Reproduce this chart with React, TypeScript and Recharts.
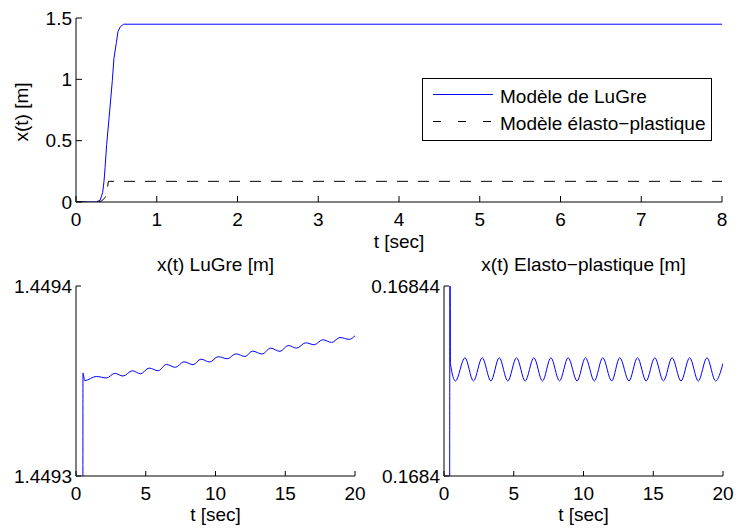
import { LineChart, Line, XAxis, YAxis, Legend } from 'recharts';

const FONT = '"Liberation Sans", Arial, Helvetica, sans-serif';
const BLUE = '#0000ff';

// top panel, full run 0..8 s
const lugreT = [0, 0.25, 0.3, 0.33, 0.347, 0.36, 0.38, 0.41, 0.43, 0.45, 0.47, 0.5, 0.52, 0.55, 0.59, 8];
const lugreX = [0, 0, 0.016, 0.077, 0.17, 0.28, 0.47, 0.69, 0.84, 0.99, 1.17, 1.3, 1.39, 1.43, 1.4494, 1.4494];
const elastoT = [0, 0.28, 0.32, 0.36, 0.38, 0.4, 8];
const elastoX = [0, 0, 0.01, 0.036, 0.063, 0.1684, 0.1684];
const topXTicks = [0, 1, 2, 3, 4, 5, 6, 7, 8];
const topYTicks = [0, 0.5, 1, 1.5];

// zoomed panels, 0..20 s
const zoomXTicks = [0, 5, 10, 15, 20];

const zLugreT = [0.49, 0.5, 0.62, 1.46, 2.18, 2.78, 3.37, 4.04, 4.62, 5.24, 5.89, 6.48, 7.13, 7.73, 8.4, 8.95, 9.59,
  10.19, 10.84, 11.46, 12.11, 12.66, 13.35, 13.95, 14.62, 15.22, 15.81, 16.46, 17.08, 17.68, 18.33, 18.92, 19.59, 20];
const zLugreX = [1.4492, 1.4493542, 1.4493502, 1.4493524, 1.4493516, 1.449354, 1.4493526, 1.4493554, 1.4493538,
  1.4493568, 1.4493554, 1.4493587, 1.4493572, 1.4493601, 1.4493586, 1.4493615, 1.44936, 1.4493628, 1.4493617,
  1.4493643, 1.4493629, 1.4493657, 1.4493642, 1.4493673, 1.4493656, 1.4493687, 1.4493673, 1.4493701, 1.4493691,
  1.4493717, 1.4493703, 1.4493729, 1.4493719, 1.4493738];
const lugreYTicks = [1.4493, 1.4494];

const zElastoT = [0.4, 0.43, 0.46, 0.82, 1.5, 2.11, 2.74, 3.36, 3.96, 4.57, 5.2, 5.82, 6.44, 7.06, 7.66, 8.28, 8.9,
  9.54, 10.14, 10.78, 11.38, 12.02, 12.6, 13.26, 13.87, 14.49, 15.11, 15.73, 16.35, 16.99, 17.61, 18.23, 18.85, 19.47, 20];
const zElastoX = [0.16836, 0.16846, 0.1684237, 0.16842, 0.1684249, 0.16842, 0.1684249, 0.16842, 0.1684249, 0.16842,
  0.1684249, 0.16842, 0.1684249, 0.16842, 0.1684249, 0.16842, 0.1684249, 0.16842, 0.1684249, 0.16842, 0.1684249,
  0.16842, 0.1684249, 0.16842, 0.1684249, 0.16842, 0.1684249, 0.16842, 0.1684249, 0.16842, 0.1684249, 0.16842,
  0.1684249, 0.16842, 0.1684237];
const elastoYTicks = [0.1684, 0.16844];

const toRows = (ts: number[], xs: number[]) => ts.map((t, i) => ({ t, x: xs[i] }));

const tickStyle = { fill: '#000', fontSize: 19, fontFamily: FONT };
const noTick = () => <g />;

// MATLAB style box: inward ticks on all four sides
function boxAxes(xDomain: number[], xTicks: number[], yDomain: number[], yTicks: number[], len: number, xMargin: number, yMargin: number, xHeight: number) {
  return [
    <XAxis key="xb" dataKey="t" type="number" domain={xDomain} ticks={xTicks} interval={0} height={xHeight}
      tickSize={-len} tickMargin={xMargin} stroke="#000" tick={tickStyle} allowDataOverflow />,
    <XAxis key="xt" xAxisId="top" orientation="top" type="number" domain={xDomain} ticks={xTicks} interval={0}
      height={0} tickSize={-len} stroke="#000" tick={noTick} allowDataOverflow />,
    <YAxis key="yl" type="number" domain={yDomain} ticks={yTicks} interval={0} width={76}
      tickSize={-len} tickMargin={yMargin} stroke="#000" tick={tickStyle} allowDataOverflow />,
    <YAxis key="yr" yAxisId="right" orientation="right" type="number" domain={yDomain} ticks={yTicks} interval={0}
      width={0} tickSize={-len} stroke="#000" tick={noTick} allowDataOverflow />,
  ];
}

function LegendBox() {
  return (
    <svg width={290} height={63} style={{ display: 'block', overflow: 'visible' }}>
      <rect x={0.5} y={0.5} width={289} height={62} fill="#fff" stroke="#000" />
      <line x1={11} x2={71} y1={16.5} y2={16.5} stroke={BLUE} />
      <text x={78} y={25} fontSize={19} fontFamily={FONT} fill="#000">Modèle de LuGre</text>
      <line x1={11} x2={71} y1={43.5} y2={43.5} stroke="#000" strokeDasharray="8 17" />
      <text x={78} y={52} fontSize={19} fontFamily={FONT} fill="#000">Modèle élasto−plastique</text>
    </svg>
  );
}

export default function App() {
  return (
    <div style={{ position: 'absolute', left: 0, top: 0, width: 737, height: 530, background: '#fff' }}>
      <div style={{ position: 'absolute', left: 0, top: 0 }}>
        <LineChart width={737} height={260} margin={{ top: 18, right: 15, bottom: 0, left: 0 }}>
          {boxAxes([0, 8], topXTicks, [0, 1.5], topYTicks, 6, 17, 10, 58)}
          <Line data={toRows(lugreT, lugreX)} dataKey="x" type="linear" stroke={BLUE} strokeWidth={1}
            dot={false} activeDot={false} isAnimationActive={false} />
          <Line data={toRows(elastoT, elastoX)} dataKey="x" type="linear" stroke="#000" strokeWidth={1}
            strokeDasharray="11 10" dot={false} activeDot={false} isAnimationActive={false} />
          <Legend layout="vertical" align="center" verticalAlign="middle" content={() => <LegendBox />}
            wrapperStyle={{ left: 422, top: 78, width: 290, height: 63 }} />
        </LineChart>
      </div>

      <div style={{ position: 'absolute', left: 0, top: 250 }}>
        <LineChart width={368} height={280} margin={{ top: 36, right: 13, bottom: 0, left: 0 }}>
          {boxAxes([0, 20], zoomXTicks, [1.4493, 1.4494], lugreYTicks, 5, 16, 9, 54)}
          <Line data={toRows(zLugreT, zLugreX)} dataKey="x" type="monotone" stroke={BLUE} strokeWidth={1}
            dot={false} activeDot={false} isAnimationActive={false} />
        </LineChart>
      </div>

      <div style={{ position: 'absolute', left: 368, top: 250 }}>
        <LineChart width={369} height={280} margin={{ top: 36, right: 14, bottom: 0, left: 0 }}>
          {boxAxes([0, 20], zoomXTicks, [0.1684, 0.16844], elastoYTicks, 5, 16, 9, 54)}
          <Line data={toRows(zElastoT, zElastoX)} dataKey="x" type="monotone" stroke={BLUE} strokeWidth={1}
            dot={false} activeDot={false} isAnimationActive={false} />
        </LineChart>
      </div>

      <svg width={737} height={530} style={{ position: 'absolute', left: 0, top: 0, pointerEvents: 'none' }}
        fontFamily={FONT} fontSize={19} fill="#000">
        <text x={28} y={112} textAnchor="middle" transform="rotate(-90 28 112)">x(t) [m]</text>
        <text x={399} y={248} textAnchor="middle">t [sec]</text>
        <text x={215.5} y={271} textAnchor="middle">x(t) LuGre [m]</text>
        <text x={583.5} y={271} textAnchor="middle">x(t) Elasto−plastique [m]</text>
        <text x={215.5} y={521} textAnchor="middle">t [sec]</text>
        <text x={583.5} y={521} textAnchor="middle">t [sec]</text>
      </svg>
    </div>
  );
}
